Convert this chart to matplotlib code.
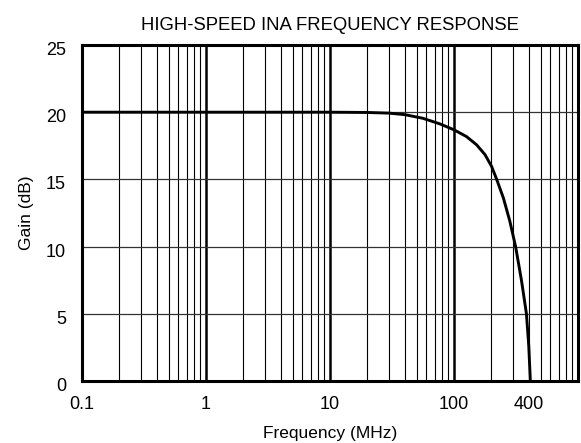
import matplotlib
matplotlib.use("Agg")
import matplotlib.pyplot as plt
import matplotlib.transforms as mtransforms
import numpy as np

plt.rcParams['font.family'] = ['Liberation Sans', 'DejaVu Sans']

freq_mhz = [0.1, 1, 10, 20, 30, 40, 56, 77, 100, 126, 152, 178, 201, 221, 250, 282, 314, 350, 384, 401, 413]
gain_db = [20, 20, 20, 19.98, 19.93, 19.82, 19.55, 19.13, 18.69, 18.19, 17.58, 16.84, 15.97, 15.0, 13.63, 11.9, 10.0, 7.5, 5.0, 2.6, 0.0]

xtick_vals = [0.1, 1, 10, 100, 400]
xtick_labels = ['0.1', '1', '10', '100', '400']
ytick_vals = [0, 5, 10, 15, 20, 25]

fig = plt.figure(figsize=(5.81, 4.43), dpi=100)
ax = fig.add_axes([0.1411, 0.14, 0.9948 - 0.1411, 0.8984 - 0.14])
ax.set_xscale('log')
ax.set_xlim(0.1, 1000)
ax.set_ylim(0, 25)

# grid
for dec in [0.1, 1, 10, 100]:
    for m in range(2, 10):
        ax.axvline(dec * m, color='black', lw=0.8, zorder=1)
for dec in [1, 10, 100]:
    ax.axvline(dec, color='black', lw=1.8, zorder=1)
for yv in [5, 10, 15, 20]:
    ax.axhline(yv, color='#333333', lw=0.9, zorder=1)

ax.plot(freq_mhz, gain_db, color='black', lw=2.1, zorder=3, solid_joinstyle='round')

ax.set_xticks(xtick_vals)
ax.set_xticklabels(xtick_labels)
ax.xaxis.set_minor_locator(matplotlib.ticker.NullLocator())
ax.set_yticks(ytick_vals)
ax.set_yticklabels([''] * len(ytick_vals))
ax.tick_params(length=0, labelsize=13)
ax.tick_params(axis='x', pad=11)

# y tick labels, shifted slightly below their gridlines as in the reference
offset = mtransforms.ScaledTranslation(-16 / 100, -3.5 / 100, fig.dpi_scale_trans)
ytrans = ax.get_yaxis_transform() + offset
for yv in ytick_vals:
    ax.text(0, yv, str(yv), transform=ytrans, ha='right', va='center_baseline',
            fontsize=13, clip_on=False)

for s in ax.spines.values():
    s.set_linewidth(2.2)

ax.set_xlabel('Frequency (MHz)', fontsize=12.5, labelpad=9)
ax.set_ylabel('Gain (dB)', fontsize=12.5, labelpad=31)
ax.set_title('HIGH-SPEED INA FREQUENCY RESPONSE', fontsize=13.3, pad=11)

fig.savefig('out.png', dpi=100)
